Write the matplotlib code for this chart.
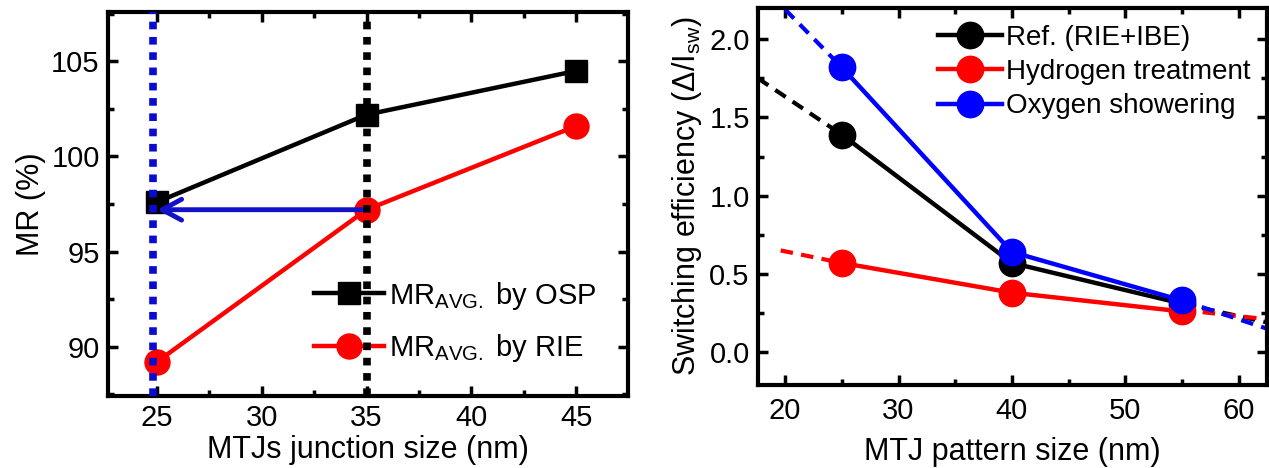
import matplotlib
matplotlib.use("Agg")
import matplotlib.pyplot as plt
from matplotlib.ticker import MultipleLocator

plt.rcParams['font.family'] = ['Liberation Sans', 'DejaVu Sans']
plt.rcParams['mathtext.fontset'] = 'custom'
plt.rcParams['mathtext.rm'] = 'Liberation Sans'
plt.rcParams['mathtext.it'] = 'Liberation Sans'

# ---- Left panel data ----
junction_size = [25, 35, 45]
mr_osp = [97.6, 102.2, 104.5]
mr_rie = [89.2, 97.2, 101.6]
blue_vline_x = 24.8
black_vline_x = 35
black_vline_top = 107.3
arrow_y = 97.2
arrow_from_x = 35
arrow_to_x = 25

# ---- Right panel data ----
pattern_size = [25, 40, 55]
eff_ref = [1.39, 0.57, 0.31]
eff_hyd = [0.57, 0.38, 0.26]
eff_oxy = [1.82, 0.64, 0.33]
# extrapolated (dashed) segments
ref_fit_left_x = [17.6, 25]
ref_fit_left_y = [1.75, 1.39]
hyd_fit_left_x = [19.6, 25]
hyd_fit_left_y = [0.65, 0.57]
oxy_fit_left_x = [20.0, 25]
oxy_fit_left_y = [2.19, 1.82]
fit_right_x = [55, 62.5]
ref_fit_right_y = [0.31, 0.19]
hyd_fit_right_y = [0.27, 0.21]
oxy_fit_right_y = [0.33, 0.15]

fig = plt.figure(figsize=(12.69, 4.68), dpi=100)
ax1 = fig.add_axes([0.0851, 0.1538, 0.4098, 0.8206])
ax2 = fig.add_axes([0.5973, 0.1774, 0.4011, 0.8056])

TICK_FS = 21
LABEL_FS = 22
LEG_FS = 20

def style_axes(ax):
    for s in ax.spines.values():
        s.set_linewidth(3)
    ax.tick_params(which='both', direction='in', top=True, right=True,
                   width=2.5, labelsize=TICK_FS, pad=6)
    ax.tick_params(which='major', length=7)
    ax.tick_params(which='minor', length=4.5)

# Left panel
ax1.plot(junction_size, mr_osp, color='black', lw=3.2, marker='s', ms=16,
         label=r'MR$_{\mathregular{AVG.}}$ by OSP', zorder=3)
ax1.plot(junction_size, mr_rie, color='red', lw=3.2, marker='o', ms=18,
         label=r'MR$_{\mathregular{AVG.}}$ by RIE', zorder=3)
ax1.annotate('', xy=(arrow_to_x, arrow_y), xytext=(arrow_from_x, arrow_y),
             arrowprops=dict(arrowstyle='->,head_length=1.4,head_width=0.75',
                             color='#1212c8', lw=3.5, shrinkA=0, shrinkB=0),
             zorder=4)
ax1.plot([blue_vline_x, blue_vline_x], [87.4, 107.6], color='#0a0ad0', lw=5.5,
         dashes=(1, 1), dash_capstyle='butt', zorder=6)
ax1.plot([black_vline_x, black_vline_x], [87.4, black_vline_top], color='black', lw=5.5,
         dashes=(1, 1), dash_capstyle='butt', zorder=6)
ax1.set_xlim(22.66, 47.48)
ax1.set_ylim(87.4, 107.6)
ax1.xaxis.set_major_locator(MultipleLocator(5))
ax1.xaxis.set_minor_locator(MultipleLocator(2.5))
ax1.yaxis.set_major_locator(MultipleLocator(5))
ax1.yaxis.set_minor_locator(MultipleLocator(2.5))
style_axes(ax1)
ax1.set_xlabel('MTJs junction size (nm)', fontsize=LABEL_FS, labelpad=2)
ax1.set_ylabel('MR (%)', fontsize=LABEL_FS, labelpad=4)
leg1 = ax1.legend(loc='lower right', frameon=False, fontsize=21,
                  handlelength=2.4, handletextpad=0.15, labelspacing=0.7,
                  borderaxespad=0.7)

# Right panel
MS = 19
ax2.plot(pattern_size, eff_ref, color='black', lw=3.2, marker='o', ms=MS,
         label='Ref. (RIE+IBE)', zorder=3)
ax2.plot(pattern_size, eff_hyd, color='red', lw=3.2, marker='o', ms=MS,
         label='Hydrogen treatment', zorder=3)
ax2.plot(pattern_size, eff_oxy, color='blue', lw=3.2, marker='o', ms=MS,
         label='Oxygen showering', zorder=3)
DASH = (0, (3, 2))
ax2.plot(ref_fit_left_x, ref_fit_left_y, color='black', lw=3, ls=DASH, zorder=2)
ax2.plot(hyd_fit_left_x, hyd_fit_left_y, color='red', lw=3, ls=DASH, zorder=2)
ax2.plot(oxy_fit_left_x, oxy_fit_left_y, color='blue', lw=3, ls=DASH, zorder=2)
ax2.plot(fit_right_x, ref_fit_right_y, color='black', lw=3, ls=DASH, zorder=2)
ax2.plot(fit_right_x, hyd_fit_right_y, color='red', lw=3, ls=DASH, zorder=2)
ax2.plot(fit_right_x, oxy_fit_right_y, color='blue', lw=3, ls=DASH, zorder=2)
ax2.set_xlim(17.6, 62.5)
ax2.set_ylim(-0.21, 2.2)
ax2.xaxis.set_major_locator(MultipleLocator(10))
ax2.xaxis.set_minor_locator(MultipleLocator(5))
ax2.yaxis.set_major_locator(MultipleLocator(0.5))
ax2.yaxis.set_minor_locator(MultipleLocator(0.25))
style_axes(ax2)
ax2.tick_params(axis='x', pad=9)
ax2.set_xlabel('MTJ pattern size (nm)', fontsize=LABEL_FS, labelpad=8)
ax2.set_ylabel('Switching efficiency (\u0394/I$_{\\mathregular{sw}}$)', fontsize=LABEL_FS, labelpad=4)
leg2 = ax2.legend(loc='upper right', frameon=False, fontsize=LEG_FS,
                  handlelength=2.3, handletextpad=0.15, labelspacing=0.3,
                  borderaxespad=0.2)

fig.savefig('out.png', dpi=100)
